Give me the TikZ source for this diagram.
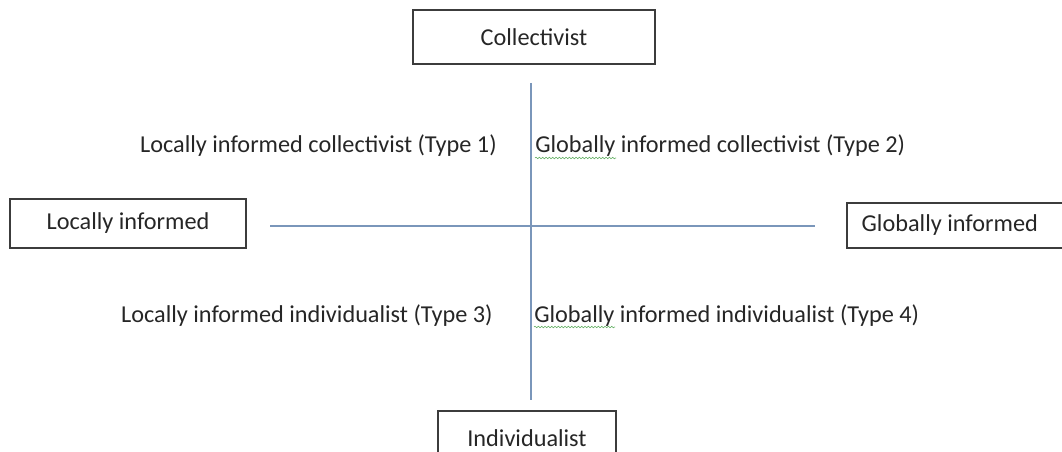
\documentclass[tikz,border=0pt]{standalone}
\usepackage{fontspec}
\setmainfont{Carlito}
\usetikzlibrary{calc,decorations.pathmorphing}
\definecolor{axisblue}{RGB}{122,150,186}
\definecolor{boxgray}{RGB}{60,60,60}
\definecolor{spellgreen}{RGB}{90,170,90}
\begin{document}
\begin{tikzpicture}[x=0.75pt,y=-0.75pt,
			box/.style={draw=boxgray, line width=0.9pt, inner sep=0pt, font=\fontsize{18.2}{21}\selectfont, text=black!85},
			lbl/.style={inner sep=0pt, font=\fontsize{18.2}{21}\selectfont, text=black!85},
			axis/.style={draw=axisblue, line width=1.1pt},
			squiggle/.style={draw=spellgreen, line width=0.4pt, decorate, decoration={snake, amplitude=0.6pt, segment length=2.5pt}}]

			\clip (0,0) rectangle (1062,452);

			% drawing boxes
			\node[box, minimum width=181.5pt, minimum height=40.5pt] (coll) at (534,37) {Collectivist};
			\node[box, minimum width=133.5pt, minimum height=40.5pt] (indiv) at (527,438) {Individualist};
			\node[box, minimum width=177pt, minimum height=36.75pt] (local) at (128,223.5) {Locally informed};
			\node[box, text width=155pt, align=flush left, inner xsep=11pt, minimum height=33.75pt] (global) at (965,225.5) {Globally informed};

			% drawing axes
			\coordinate (vtop) at (531,83);
			\coordinate (vbot) at (531,400);
			\coordinate (hleft) at (270,226);
			\coordinate (hright) at (815,226);
			\draw[axis] (vtop) -- (vbot);
			\draw[axis] (hleft) -- (hright);

			% drawing quadrant labels
			\node[lbl, anchor=base east] (t1) at (497,153) {Locally informed collectivist (Type 1)};
			\node[lbl, anchor=base west] (t2) at (535,153) {Globally informed collectivist (Type 2)};
			\node[lbl, anchor=base east] (t3) at (493,322) {Locally informed individualist (Type 3)};
			\node[lbl, anchor=base west] (t4) at (534,322) {Globally informed individualist (Type 4)};

			% spell check marks
			\draw[squiggle] ($(t2.base west)+(0,5)$) -- ++(81,0);
			\draw[squiggle] ($(t4.base west)+(0,5)$) -- ++(81,0);

		\end{tikzpicture}
\end{document}
